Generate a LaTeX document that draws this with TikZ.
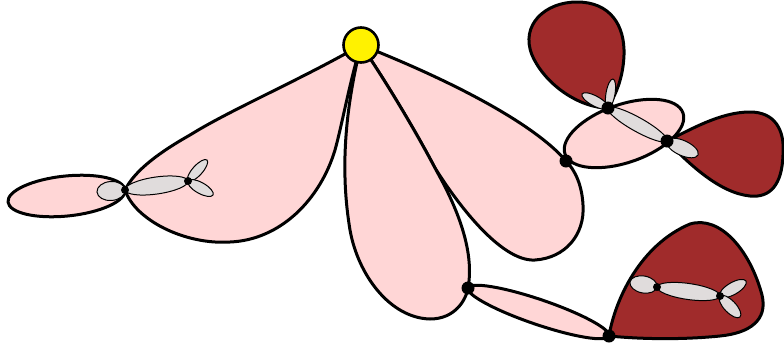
\documentclass[tikz,border=0pt]{standalone}
\usetikzlibrary{calc}
\definecolor{petal}{HTML}{FFD6D6}
\definecolor{wine}{HTML}{A02B2B}
\definecolor{pale}{HTML}{E0DCDC}
\tikzset{
  outline/.style={draw=black, line width=3pt, line join=round},
  pinkfill/.style={outline, fill=petal},
  redfill/.style={outline, fill=wine},
  graylobe/.style={draw=black, line width=1pt, fill=pale},
  bigdot/.style={fill=black},
}
% ellipse whose long axis runs from #2 to #3, half width #4 (pt)
\newcommand\mylobe[4][]{%
  \path let \p1=(#2), \p2=(#3) in \pgfextra{%
    \pgfmathsetmacro\lobang{atan2(\y2-\y1,\x2-\x1)}%
    \pgfmathsetmacro\loblen{veclen(\x2-\x1,\y2-\y1)/2}%
    \pgfmathsetmacro\lobx{(\x1+\x2)/2}%
    \pgfmathsetmacro\loby{(\y1+\y2)/2}%
    \xdef\lobang{\lobang}\xdef\loblen{\loblen}\xdef\lobx{\lobx}\xdef\loby{\loby}};%
  \path[#1, rotate around={\lobang:(\lobx pt,\loby pt)}] (\lobx pt,\loby pt) ellipse [x radius=\loblen pt, y radius=#4 pt];}
\begin{document}
\begin{tikzpicture}[x=1pt,y=-1pt]
\useasboundingbox (0,0) rectangle (784,354);
% named points
\coordinate (rc) at (361,45);
\coordinate (S) at (435,168);
\coordinate (L0) at (8,202);
\coordinate (T) at (125,190);
\coordinate (La) at (97,192);
\coordinate (G1) at (188,181);
\coordinate (G1a) at (207,160);
\coordinate (G1b) at (213,195);
\coordinate (P) at (566,161);
\coordinate (D1) at (608,108);
\coordinate (D2) at (667,141);
\coordinate (D1a) at (582,94);
\coordinate (D1b) at (613,79);
\coordinate (D2a) at (698,155);
\coordinate (E1) at (565,154);
\coordinate (E2) at (683,113);
\coordinate (D3) at (468,288);
\coordinate (D4) at (609,336);
\coordinate (B1) at (630,282);
\coordinate (B2) at (657,287);
\coordinate (B3) at (720,296);
\coordinate (B3a) at (746,281);
\coordinate (B3b) at (740,317);

% left small pink ellipse
\mylobe[pinkfill]{L0}{T}{20}
% left petal
\path[pinkfill] (rc) .. controls (300,80) and (230,110) .. (190,135)
  .. controls (160,152) and (135,170) .. (T)
  .. controls (135,220) and (185,245) .. (230,242)
  .. controls (280,240) and (320,200) .. (335,150)
  .. controls (342,125) and (350,80) .. (rc) -- cycle;
% right petal
\path[pinkfill] (rc) .. controls (385,80) and (415,130) .. (S)
  .. controls (455,200) and (500,262) .. (535,260)
  .. controls (565,258) and (585,235) .. (583,205)
  .. controls (582,185) and (575,170) .. (P)
  .. controls (540,130) and (470,88) .. (rc) -- cycle;
% middle petal
\path[pinkfill] (rc) .. controls (345,110) and (340,170) .. (350,230)
  .. controls (358,275) and (390,318) .. (430,319)
  .. controls (455,319) and (466,300) .. (D3)
  .. controls (476,245) and (450,195) .. (S)
  .. controls (415,130) and (385,80) .. (rc) -- cycle;

% top right dark red lobes
\path[redfill] (D1) .. controls (580,108) and (545,85) .. (532,55)
  .. controls (520,25) and (545,2) .. (577,2)
  .. controls (610,2) and (625,25) .. (624,55)
  .. controls (623,80) and (615,95) .. (D1) -- cycle;
\path[redfill] (D2) .. controls (690,130) and (720,112) .. (750,112)
  .. controls (775,112) and (785,130) .. (783,155)
  .. controls (782,185) and (770,198) .. (750,196)
  .. controls (720,193) and (690,165) .. (D2) -- cycle;
% top right pink ellipse
\mylobe[pinkfill]{E1}{E2}{29}

% bottom pink ellipse and dark red lobe
\mylobe[pinkfill]{D3}{D4}{12.5}
\path[redfill] (D4) .. controls (615,300) and (640,245) .. (690,224)
  .. controls (720,215) and (750,250) .. (762,295)
  .. controls (768,320) and (750,333) .. (720,336)
  .. controls (680,340) and (640,339) .. (D4) -- cycle;

% grey lobes
\mylobe[graylobe]{La}{T}{9.5}
\mylobe[graylobe]{T}{G1}{8.5}
\mylobe[graylobe]{G1}{G1a}{5}
\mylobe[graylobe]{G1}{G1b}{5.5}
\mylobe[graylobe]{D1}{D2}{7}
\mylobe[graylobe]{D1a}{D1}{5}
\mylobe[graylobe]{D1}{D1b}{4.5}
\mylobe[graylobe]{D2}{D2a}{7.5}
\mylobe[graylobe]{B1}{B2}{8.5}
\mylobe[graylobe]{B2}{B3}{8}
\mylobe[graylobe]{B3}{B3a}{6}
\mylobe[graylobe]{B3}{B3b}{6}

% dots
\foreach \d in {P,D1,D2,D3,D4} \fill[bigdot] (\d) circle[radius=6.5pt];
\foreach \d in {T,G1,B2,B3} \fill[bigdot] (\d) circle[radius=4pt];

% root
\node[circle, draw=black, fill=yellow, line width=2.6pt, minimum size=35pt, inner sep=0pt] (root) at (rc) {};
\end{tikzpicture}
\end{document}
